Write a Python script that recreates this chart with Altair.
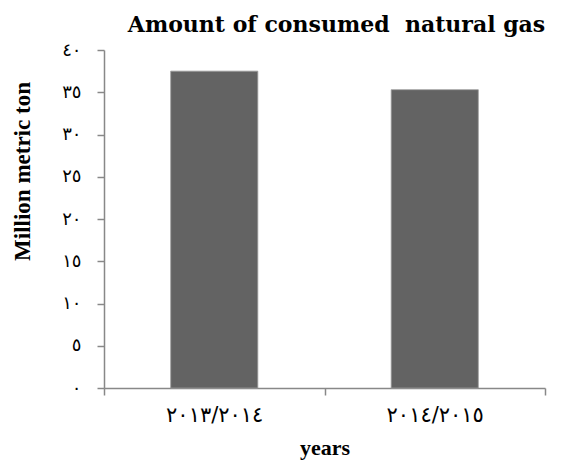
import altair as alt
import pandas as pd

years = ["٢٠١٣/٢٠١٤", "٢٠١٤/٢٠١٥"]
values = [37.5, 35.3]
y_tick_values = [0, 5, 10, 15, 20, 25, 30, 35, 40]
y_tick_labels = ["٠", "٥", "١٠", "١٥", "٢٠", "٢٥", "٣٠", "٣٥", "٤٠"]

df = pd.DataFrame({"year": years, "value": values})

label_arr = "[" + ",".join("'" + s + "'" for s in y_tick_labels) + "]"

chart = alt.Chart(df).mark_bar(color="#636363", stroke="#9a9a9a", strokeWidth=0.8,
                               width=alt.RelativeBandSize(0.395)).encode(
    x=alt.X("year:N", sort=years, title="years",
            scale=alt.Scale(paddingInner=0, paddingOuter=0),
            axis=alt.Axis(labelAngle=0, tickBand="extent", labelFont="DejaVu Sans",
                          labelFontSize=21, labelColor="#000", labelPadding=9,
                          tickSize=7, tickColor="#888", domainColor="#888", domainWidth=1.5,
                          tickWidth=1.5,
                          titleFont="Liberation Serif", titleFontSize=22,
                          titleFontWeight="bold", titleColor="#000", titlePadding=12)),
    y=alt.Y("value:Q", title="Million metric ton",
            scale=alt.Scale(domain=[0, 40], nice=False),
            axis=alt.Axis(values=y_tick_values, grid=False,
                          labelExpr=label_arr + "[datum.value/5]",
                          labelFont="DejaVu Sans", labelFontSize=18, labelColor="#000",
                          labelPadding=16, tickSize=7, tickColor="#888", domainColor="#888",
                          domainWidth=1.5, tickWidth=1.5,
                          titleFont="Liberation Serif", titleFontSize=23,
                          titleFontWeight="bold", titleColor="#000",
                          titleX=-70, titleY=121)),
).properties(
    width=441, height=338,
    title=alt.TitleParams("Amount of consumed\u00a0 natural gas", font="DejaVu Serif",
                          fontSize=22, fontWeight="bold", color="#000", dx=12, offset=4),
    autosize=alt.AutoSizeParams(type="none"),
    padding={"left": 96, "top": 42, "right": 10, "bottom": 80},
).configure_view(stroke=None)

chart.save("out.html", embed_options={"renderer": "svg", "actions": False})
